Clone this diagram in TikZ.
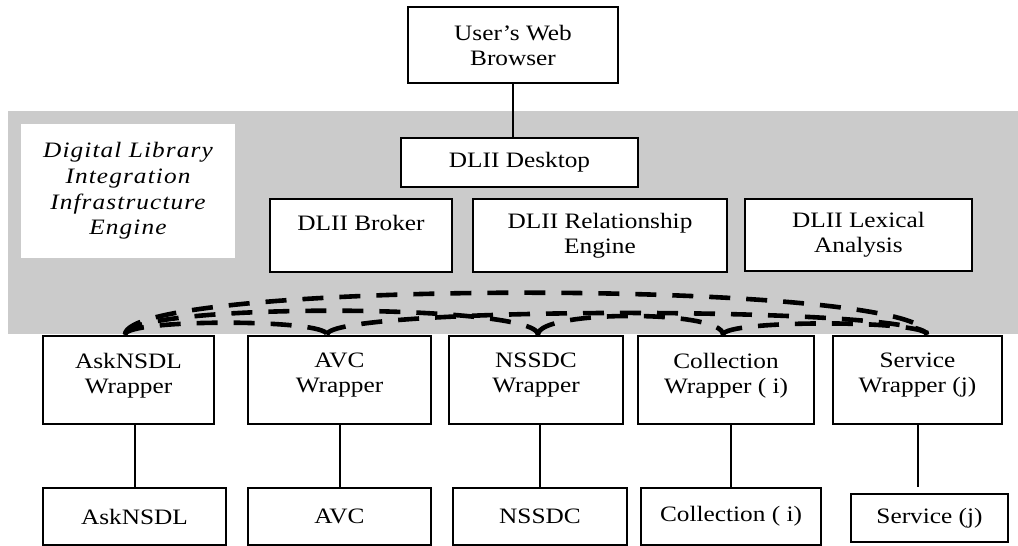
\documentclass[tikz,border=0pt]{standalone}
\usepackage{fontspec}
\setmainfont[FakeStretch=1.15]{Liberation Serif}
\newfontfamily\enginefont[FakeStretch=1.15,LetterSpace=5]{Liberation Serif}
\usepackage{tikz}
\definecolor{bandgray}{RGB}{203,203,203}

\begin{document}
\begin{tikzpicture}[x=0.5pt, y=0.5pt,
        box/.style = {draw, line width=1.3pt, fill=white, align=center, inner sep=2pt,
                      font=\fontsize{11}{12.5}\selectfont},
        wrap/.style = {box, minimum height=44pt, text depth=7pt},
        leaf/.style = {box, minimum height=28.5pt},
        link/.style = {line width=1pt},
        wire/.style = {line width=2.3pt, dash pattern=on 10.5pt off 8pt}]
                \useasboundingbox (0,0) rectangle (1018,546);
                \fill[bandgray] (8,212) rectangle (1018,435);
                \node[fill=white, align=center, minimum width=107pt, minimum height=67pt,
                      font=\enginefont\fontsize{11}{12.8}\selectfont\itshape] (engine) at (128,355)
                      {Digital Library\\Integration\\Infrastructure\\Engine};
                \node[box, minimum width=105pt, minimum height=38pt] (browser) at (513,501) {User’s Web\\Browser};
                \node[box, minimum width=118.5pt, minimum height=24.5pt] (desktop) at (519.5,383.5) {DLII Desktop};
                \node[box, minimum width=91pt, minimum height=36.5pt] (broker) at (361,310.5) {DLII Broker\\\mbox{}};
                \node[box, minimum width=127pt, minimum height=36.5pt] (relation) at (600,310.5) {DLII Relationship\\Engine};
                \node[box, minimum width=113.5pt, minimum height=36pt] (lexical) at (858.5,311) {DLII Lexical\\Analysis};
                \node[wrap, minimum width=85.5pt] (askW) at (128.5,166) {AskNSDL\\Wrapper};
                \node[wrap, minimum width=91.5pt] (avcW) at (339.5,166) {AVC\\Wrapper};
                \node[wrap, minimum width=87pt] (nssdcW) at (536,166) {NSSDC\\Wrapper};
                \node[wrap, minimum width=88pt] (collW) at (726,166) {Collection\\Wrapper ( i)};
                \node[wrap, minimum width=84.5pt] (servW) at (917.5,166) {Service\\Wrapper (j)};
                \node[leaf, minimum width=91.5pt] (ask) at (134.5,29.5) {AskNSDL};
                \node[leaf, minimum width=91.5pt] (avc) at (339.5,29.5) {AVC};
                \node[leaf, minimum width=87pt] (nssdc) at (540,29.5) {NSSDC};
                \node[leaf, minimum width=90pt] (coll) at (731,29.5) {Collection ( i)};
                \node[leaf, minimum width=78.5pt, minimum height=24pt] (serv) at (929.5,28) {Service (j)};
                \draw[link] (browser.south) -- (browser.south |- desktop.north);
                \draw[link] (ask.north) -- (ask.north |- askW.south);
                \draw[link] (avc.north) -- (avc.north |- avcW.south);
                \draw[link] (nssdc.north) -- (nssdc.north |- nssdcW.south);
                \draw[link] (coll.north) -- (coll.north |- collW.south);
                \draw[link, shorten >=3pt] (servW.south) -- (servW.south |- serv.north);
                % dashed links between the wrappers
                \coordinate (askT) at ([xshift=-1.75pt]askW.north);
                \coordinate (avcT) at ([xshift=-6.25pt]avcW.north);
                \coordinate (nssdcT) at ([xshift=1pt]nssdcW.north);
                \coordinate (collT) at ([xshift=-1.5pt]collW.north);
                \coordinate (servT) at ([xshift=4.75pt]servW.north);
                \draw[wire] (askT) .. controls +(0,16) and +(0,16) .. (avcT);
                \draw[wire] (askT) .. controls +(0,32) and +(0,32) .. (nssdcT);
                \draw[wire] (askT) .. controls +(0,56) and +(0,56) .. (servT);
                \draw[wire] (avcT) .. controls +(0,29) and +(0,29) .. (servT);
                \draw[wire] (nssdcT) .. controls +(0,25) and +(0,25) .. (collT);
                \draw[wire] (collT) .. controls +(0,15) and +(0,15) .. (servT);
\end{tikzpicture}
\end{document}
